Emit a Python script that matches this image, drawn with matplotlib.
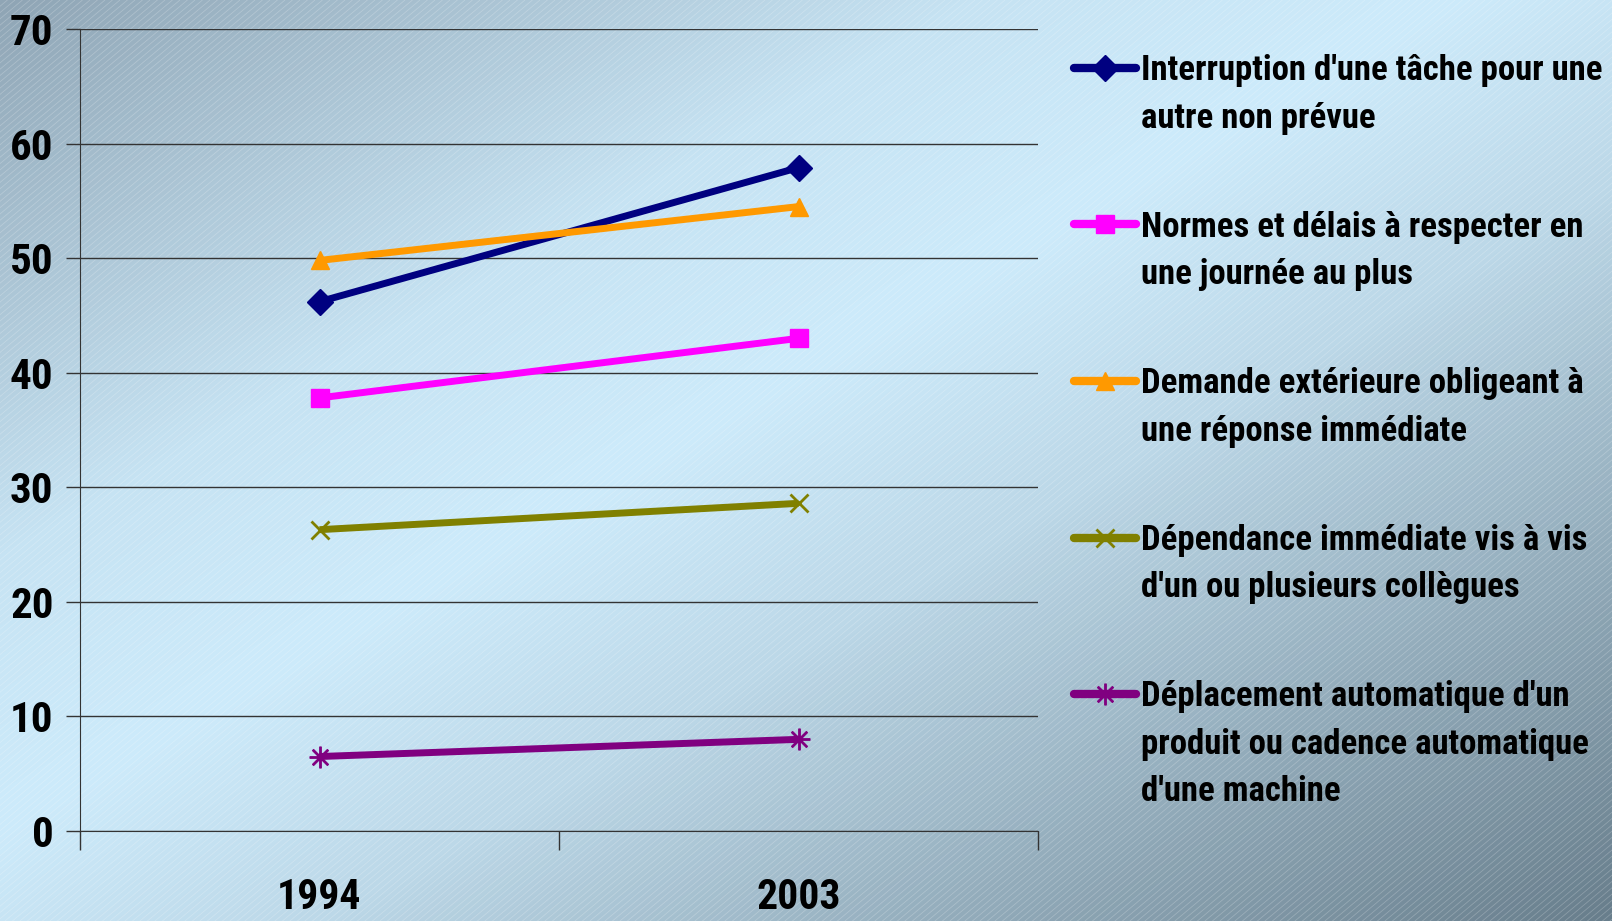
import numpy as np
import matplotlib
matplotlib.use('Agg')
import matplotlib.pyplot as plt
from matplotlib.colors import LinearSegmentedColormap
from matplotlib.collections import LineCollection
from matplotlib.lines import Line2D

# data
years = ['1994', '2003']
interruption = [46.2, 57.9]
normes = [37.8, 43.0]
demande = [49.8, 54.5]
dependance = [26.3, 28.6]
deplacement = [6.5, 8.0]

labels = ["Interruption d'une tâche pour une\nautre non prévue",
          "Normes et délais à respecter en\nune journée au plus",
          "Demande extérieure obligeant à\nune réponse immédiate",
          "Dépendance immédiate vis à vis\nd'un ou plusieurs collègues",
          "Déplacement automatique d'un\nproduit ou cadence automatique\nd'une machine"]
series = [interruption, normes, demande, dependance, deplacement]
colors = ['#000080', '#FF00FF', '#FF9900', '#808000', '#800080']
markers = ['D', 's', '^', 'x', '$\u2733$']

plt.rcParams['font.family'] = ['Roboto Condensed', 'Liberation Sans', 'DejaVu Sans']
plt.rcParams['font.weight'] = 'bold'

W, H = 1612, 921
fig = plt.figure(figsize=(W / 100, H / 100), dpi=100)

# background: diagonal gradient + faint stripes
bg = fig.add_axes([0, 0, 1, 1], zorder=-10)
xx, yy = np.meshgrid(np.linspace(0, 1, 400), np.linspace(0, 1, 230))
s = (xx + yy) / 2
cmap = LinearSegmentedColormap.from_list('bg', [(0, '#8FA5B5'), (0.3, '#C6E3F3'),
                                                (0.45, '#CDEBFB'), (0.6, '#BCD8E8'),
                                                (1, '#687E8C')])
bg.imshow(s, cmap=cmap, extent=[0, W, H, 0], aspect='auto', interpolation='bilinear')
k = np.tan(np.radians(40))
segs = []
for c in np.arange(0, W + H / k + 10, 7.5):
    segs.append([(c, 0), (c - H / k, H)])
bg.add_collection(LineCollection(segs, colors='white', linewidths=0.6, alpha=0.22))
bg.set_xlim(0, W)
bg.set_ylim(H, 0)
bg.axis('off')

ax = fig.add_axes([80 / W, 1 - 831 / H, (1038 - 80) / W, (831 - 29) / H])
ax.patch.set_alpha(0)
x = np.arange(len(years))
for vals, col, mk in zip(series, colors, markers):
    ms = 15 if mk == '$\u2733$' else 13
    ax.plot(x, vals, color=col, lw=5, marker=mk, ms=ms, mew=2 if mk == 'x' else 1,
            mec=col, mfc=col, solid_capstyle='butt', zorder=3)

ax.set_xlim(-0.5, 1.5)
ax.set_ylim(0, 70)
ax.set_yticks(range(0, 71, 10))
ax.yaxis.grid(True, color='#333333', lw=1)
ax.set_axisbelow(True)
ax.tick_params(axis='y', direction='out', length=10, width=1, color='#333333',
               labelsize=31, pad=9)
ax.set_xticks([-0.5, 0.5, 1.5])
ax.set_xticklabels([])
ax.tick_params(axis='x', which='major', direction='out', length=14, width=1, color='#333333')
ax.set_xticks(x, minor=True)
ax.set_xticklabels(years, minor=True)
ax.tick_params(axis='x', which='minor', length=0, labelsize=30, pad=33)
for side in ['top', 'right']:
    ax.spines[side].set_visible(False)
ax.spines['left'].set_color('#333333')
ax.spines['bottom'].set_color('#333333')

# legend drawn by hand so the key sits on the first line of each label
for i, (lab, col, mk) in enumerate(zip(labels, colors, markers)):
    ly = 68 + i * 156.5
    ms = 15 if mk == '$\u2733$' else 13
    fig.add_artist(Line2D([1074 / W, 1136 / W], [1 - ly / H] * 2, color=col, lw=6,
                          solid_capstyle='round', transform=fig.transFigure))
    fig.add_artist(Line2D([1105 / W], [1 - ly / H], color=col, marker=mk, ms=ms,
                          mew=2 if mk == 'x' else 1, mec=col, mfc=col,
                          transform=fig.transFigure))
    for j, line in enumerate(lab.split('\n')):
        fig.text(1141 / W, 1 - (ly + 12 + j * 47.5) / H, line, fontsize=25,
                 va='baseline', ha='left')

fig.savefig('out.png', dpi=100)
